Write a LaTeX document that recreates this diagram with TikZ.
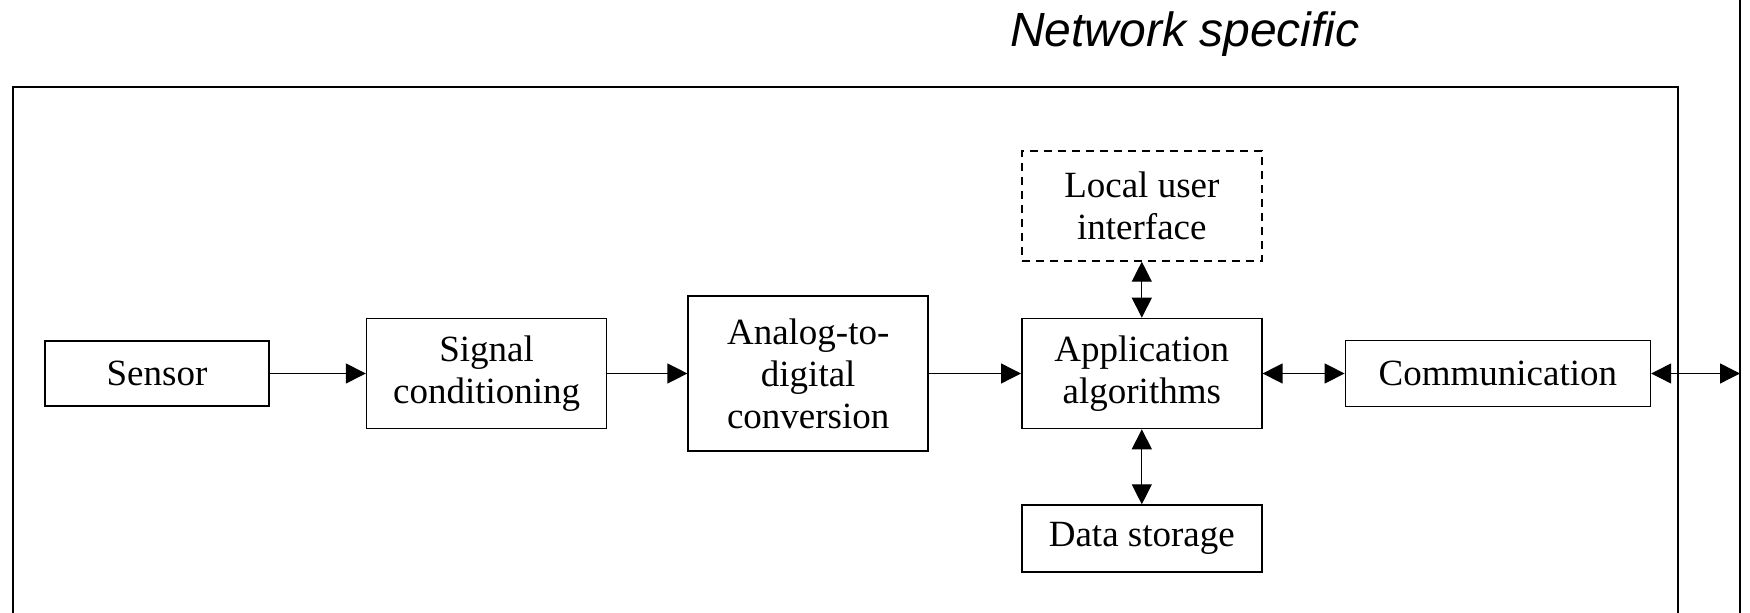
\documentclass[tikz,border=0pt]{standalone}
\usepackage{fontspec}
\setmainfont{Liberation Serif}
\newfontfamily\netfont{Liberation Sans}
\usepackage{tikz}
\usetikzlibrary{positioning,arrows.meta}

\begin{document}
\begin{tikzpicture}[x=0.5pt, y=-0.5pt,
    block/.style={
    	rectangle, draw = black, line width = 0.8pt, inner sep = 0pt,
    	minimum width = 120pt, minimum height = 55pt, align = center,
    	font = \fontsize{18.5}{21}\selectfont},
    optional/.style={block, dashed, dash pattern = on 4pt off 3pt},
    flow/.style={line width = 0.65pt, -{Triangle[length=10pt,width=10pt]}},
    link/.style={line width = 0.65pt,
    	{Triangle[length=10pt,width=10pt]}-{Triangle[length=10pt,width=10pt]}}]
    	\useasboundingbox (0,0) rectangle (1750,613);
    	\clip (0,0) rectangle (1750,613);
    	% frame of the node and the network side
    	\draw [line width = 1pt] (13,87) rectangle (1678,660);
    	\draw [line width = 1.4pt] (1740,0) -- (1740,613);
    	\node (title) [font = \netfont\itshape\fontsize{24}{27}\selectfont] at (1185,34) {Network specific};
    	\node (sensor) [block, minimum width = 112pt, minimum height = 32.5pt] at (157,373.5) {Sensor};
    	\node (signal) [block, right=48pt of sensor] {Signal\\conditioning};
    	\node (adc) [block, minimum height = 77.5pt, right=40pt of signal] {Analog-to-\\digital\\conversion};
    	\node (app) [block, right=46pt of adc] {Application\\algorithms};
    	\node (lui) [optional, above=28pt of app] {Local user\\interface};
    	\node (data) [block, minimum height = 33.5pt, below=37.5pt of app] {Data storage};
    	\node (comm) [block, minimum width = 152.5pt, minimum height = 33pt, right=41pt of app] {Communication};
    	\coordinate (net) at (1740,373.5);
    	\draw [flow] (sensor) -- (signal);
    	\draw [flow] (signal) -- (adc);
    	\draw [flow] (adc) -- (app);
    	\draw [link] (app) -- (lui);
    	\draw [link] (app) -- (data);
    	\draw [link] (app) -- (comm);
    	\draw [link] (comm) -- (net);
\end{tikzpicture}
\end{document}
